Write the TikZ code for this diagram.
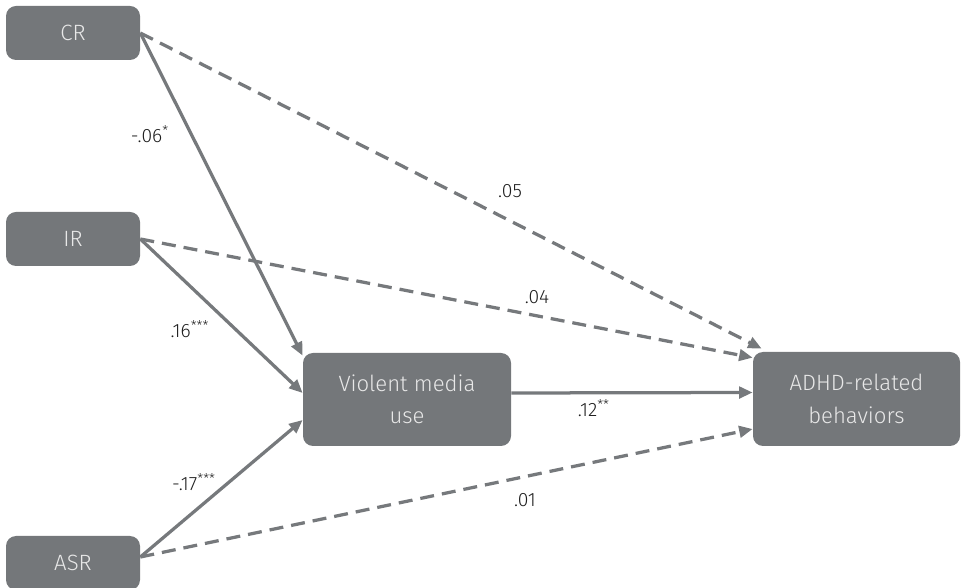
\documentclass[tikz,border=0pt]{standalone}
\usepackage{fontspec}
\setmainfont{Fira Sans Light}
\usetikzlibrary{arrows.meta}

\definecolor{boxgray}{HTML}{74777A}
\definecolor{linegray}{HTML}{76797C}
\definecolor{boxtext}{HTML}{E8E8E8}
\definecolor{coeftext}{HTML}{1E1E1E}

\tikzset{
  box/.style={rectangle, rounded corners=0.2cm, fill=boxgray, text=boxtext,
    align=center, inner sep=0pt, font=\fontsize{12.6}{18.4}\selectfont},
  link/.style={draw=linegray, line width=1.85pt,
    -{Triangle[length=0.27cm, width=0.23cm]}},
  dashedlink/.style={link, dash pattern=on 0.28cm off 0.16cm},
  coef/.style={text=coeftext, font=\fontsize{11}{13}\selectfont, inner sep=0pt}
}

\begin{document}
\begin{tikzpicture}
  \useasboundingbox (0,0) rectangle (19.22,-11.76);

  % predictors on the left
  \node [box, minimum width=2.68cm, minimum height=1.08cm] (cr)  at (1.46,-0.66)  {CR};
  \node [box, minimum width=2.68cm, minimum height=1.08cm] (ir)  at (1.46,-4.78)  {IR};
  \node [box, minimum width=2.68cm, minimum height=1.08cm] (asr) at (1.46,-11.26) {ASR};

  % mediator and outcome
  \node [box, minimum width=4.16cm, minimum height=1.86cm] (vmu)  at (8.14,-7.99)  {Violent media\\use};
  \node [box, minimum width=4.14cm, minimum height=1.88cm] (adhd) at (17.13,-7.98) {ADHD-related\\behaviors};

  % paths into the mediator
  \draw [link] (cr.east) -- ([yshift=-0.06cm]vmu.north west);
  \draw [link] (ir.east) -- ([yshift=0.13cm]vmu.west);
  \draw [link] ([yshift=0.12cm]asr.east) -- ([yshift=-0.41cm]vmu.west);
  \draw [link] ([yshift=0.13cm]vmu.east) -- ([yshift=0.13cm]adhd.west);

  % direct paths
  \draw [dashedlink] (cr.east) -- ([xshift=0.18cm, yshift=0.06cm]adhd.north west);
  \draw [dashedlink] (ir.east) -- ([yshift=-0.12cm]adhd.north west);
  \draw [dashedlink] ([yshift=0.12cm]asr.east) -- ([yshift=-0.6cm]adhd.west);

  % coefficients
  \node [coef] (c-cr)   at (3.0,-2.68)   {-.06\textsuperscript{*}};
  \node [coef] (c-ir)   at (3.8,-6.58)   {.16\textsuperscript{***}};
  \node [coef] (c-asr)  at (3.88,-9.64)  {-.17\textsuperscript{***}};
  \node [coef] (c-vmu)  at (11.88,-8.16) {.12\textsuperscript{**}};
  \node [coef] (d-cr)   at (10.2,-3.82)  {.05};
  \node [coef] (d-ir)   at (10.74,-5.94) {.04};
  \node [coef] (d-asr)  at (10.5,-10.0)  {.01};
\end{tikzpicture}
\end{document}
